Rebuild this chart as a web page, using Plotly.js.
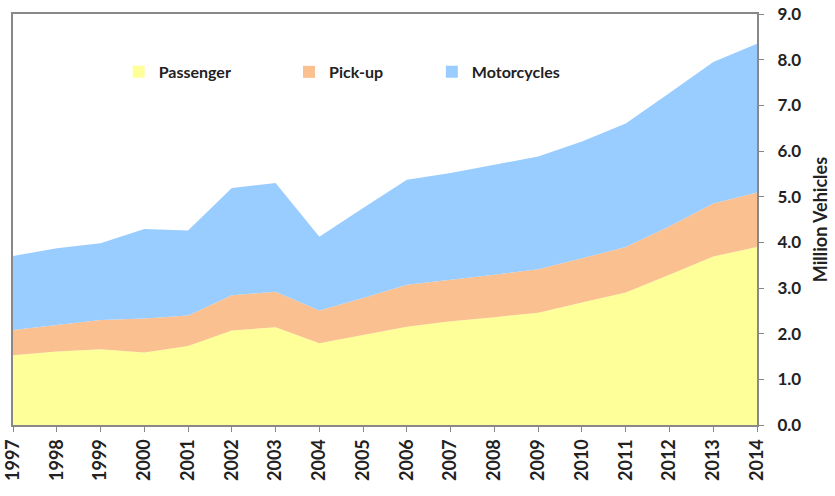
<!DOCTYPE html>
<html>
<head>
<meta charset="utf-8">
<script src="https://cdn.plot.ly/plotly-3.0.1.min.js"></script>
<style>html,body{margin:0;padding:0;background:#fff}#chart{width:835px;height:496px}</style>
</head>
<body>
<div id="chart"></div>
<script>
const years = [1997,1998,1999,2000,2001,2002,2003,2004,2005,2006,2007,2008,2009,2010,2011,2012,2013,2014];
const passenger = [1.53,1.61,1.66,1.59,1.73,2.07,2.14,1.79,1.97,2.15,2.27,2.36,2.46,2.68,2.90,3.29,3.69,3.90];
const pickup = [0.55,0.58,0.64,0.74,0.67,0.77,0.78,0.72,0.81,0.92,0.91,0.93,0.95,0.97,1.00,1.06,1.16,1.19];
const motorcycles = [1.62,1.68,1.68,1.96,1.86,2.35,2.38,1.61,1.97,2.30,2.34,2.41,2.47,2.56,2.70,2.92,3.10,3.26];
const seriesNames = ["Passenger","Pick-up","Motorcycles"];
const colors = ["#FFFF99","#FAC090","#99CCFF"];
const yTicks = [0,1,2,3,4,5,6,7,8,9];

const font = {family:"Lato, 'Open Sans', sans-serif", color:"#222", weight:"bold"};
const seriesData = [passenger, pickup, motorcycles];
const traces = [];
seriesData.forEach((vals,i)=>{
  traces.push({x:years, y:vals, type:"scatter", mode:"none", stackgroup:"one",
    fillcolor:colors[i], name:seriesNames[i], showlegend:false, hoverinfo:"skip"});
});
const legendNames = ["legend","legend2","legend3"];
seriesNames.forEach((n,i)=>{
  traces.push({x:[null], y:[null], type:"scatter", mode:"markers", name:n,
    marker:{symbol:"square", size:12, color:colors[i]}, legend:legendNames[i], showlegend:true});
});
const legXs = [0.142, 0.371, 0.563];
const legendCommon = (x)=>({x:x, y:0.859, xanchor:"left", yanchor:"middle", bgcolor:"rgba(0,0,0,0)",
  font:{...font, size:16}, itemwidth:30});

const layout = {
  width:835, height:496,
  margin:{l:13, r:78, t:14, b:71},
  paper_bgcolor:"#fff", plot_bgcolor:"#fff",
  font:font,
  xaxis:{range:[1997,2014], tickmode:"array", tickvals:years, ticktext:years.map(String),
    tickangle:-90, ticks:"outside", ticklen:5, tickcolor:"#888", showgrid:false, zeroline:false,
    showline:true, linecolor:"#888", linewidth:2, mirror:true, tickfont:{...font, size:18}},
  yaxis:{range:[0,9], side:"right", tickmode:"array", tickvals:yTicks, ticktext:yTicks.map(v=>v.toFixed(1)),
    ticks:"outside", ticklen:5, tickcolor:"#888", showgrid:false, zeroline:false, ticklabelstandoff:10,
    showline:true, linecolor:"#888", linewidth:2, mirror:true, tickfont:{...font, size:17},
    title:{text:"Million Vehicles", font:{...font, size:18}, standoff:14}},
  legend:legendCommon(legXs[0]),
  legend2:legendCommon(legXs[1]),
  legend3:legendCommon(legXs[2])
};
Plotly.newPlot("chart", traces, layout, {displayModeBar:false, staticPlot:true});
</script>
</body>
</html>
